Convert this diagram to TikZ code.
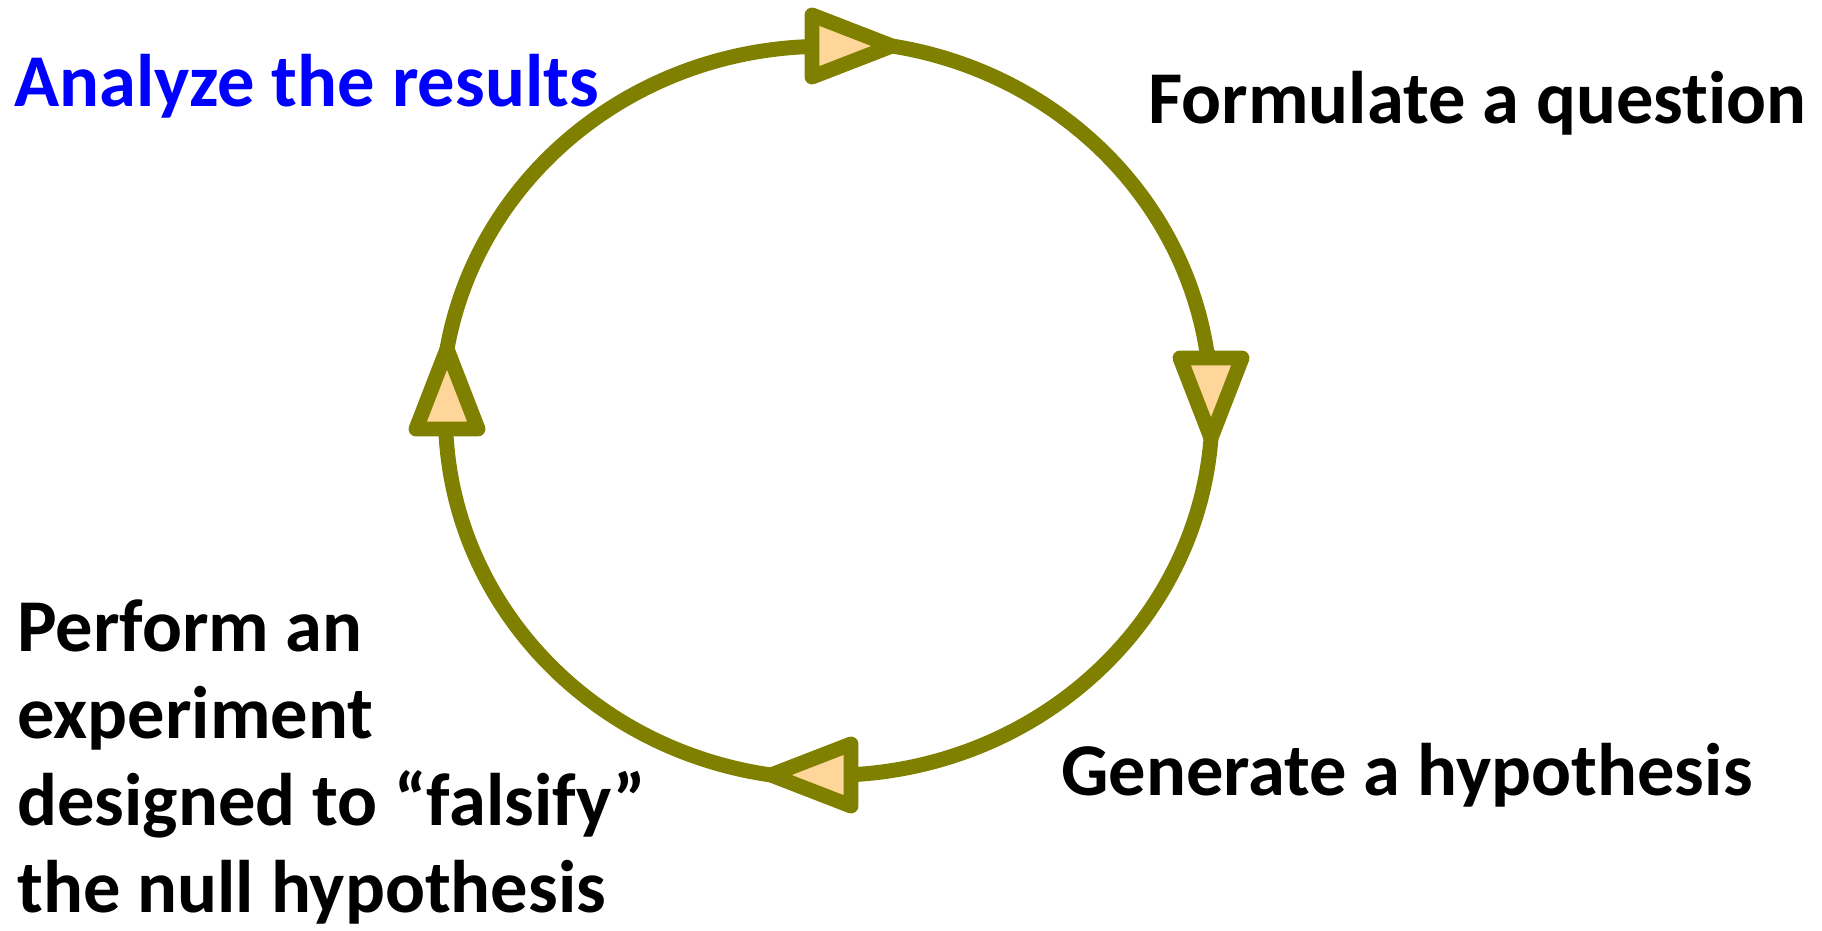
\documentclass[tikz,border=0pt]{standalone}
\usepackage{fontspec}
\setmainfont{Carlito}[Ligatures={NoCommon}]
\usepackage{tikz}
\usetikzlibrary{calc}
\definecolor{Olive}{HTML}{808000}
\definecolor{Peach}{HTML}{FFD699}
\definecolor{PureBlue}{HTML}{0000FF}
\tikzset{
  cycline/.style={draw=Olive, line width=8.5pt},
  tiphead/.style={draw=Olive, fill=Peach, line width=8.5pt, line join=round},
  steplabel/.style={font=\fontsize{42.4}{49.5}\selectfont\bfseries,
    inner sep=0pt, anchor=base west, align=left},
}

\begin{document}
\begin{tikzpicture}[x=0.02cm,y=0.02cm]
  \useasboundingbox (0,0) rectangle (1822,930);
  % arrow heads: base centre b, tip t
  \coordinate (bT) at (812,884);  \coordinate (tT) at (892,884);
  \coordinate (bR) at (1211,572); \coordinate (tR) at (1211,492);
  \coordinate (bB) at (851,155);  \coordinate (tB) at (771,155);
  \coordinate (bL) at (447,501);  \coordinate (tL) at (447,581);
  % the cycle
  \draw[cycline] (tL) arc[start angle=170.3, end angle=92.4, x radius=382, y radius=364] -- (bT);
  \draw[cycline] (tT) arc[start angle=80.5, end angle=8.3, x radius=382, y radius=364] -- (bR);
  \draw[cycline] (tR) arc[start angle=-4.2, end angle=-86.6, x radius=382, y radius=364] -- (bB);
  \draw[cycline] (tB) arc[start angle=-98.5, end angle=-177.2, x radius=382, y radius=364] -- (bL);
  \foreach \n/\ox/\oy in {T/0/31, R/31/0, B/0/31, L/31/0}
    \draw[tiphead] (t\n) -- ($(b\n)+(\ox,\oy)$) -- ($(b\n)-(\ox,\oy)$) -- cycle;
  % the steps
  \node[steplabel, text=PureBlue] (analyze) at (14,823) {Analyze the results};
  \node[steplabel] (formulate) at (1148,806) {Formulate a question};
  \node[steplabel] (generate) at (1061,134) {Generate a hypothesis};
  \node[steplabel] (perform) at (17,18) {Perform an\\experiment\\designed to “falsify”\\the null hypothesis};
\end{tikzpicture}
\end{document}
